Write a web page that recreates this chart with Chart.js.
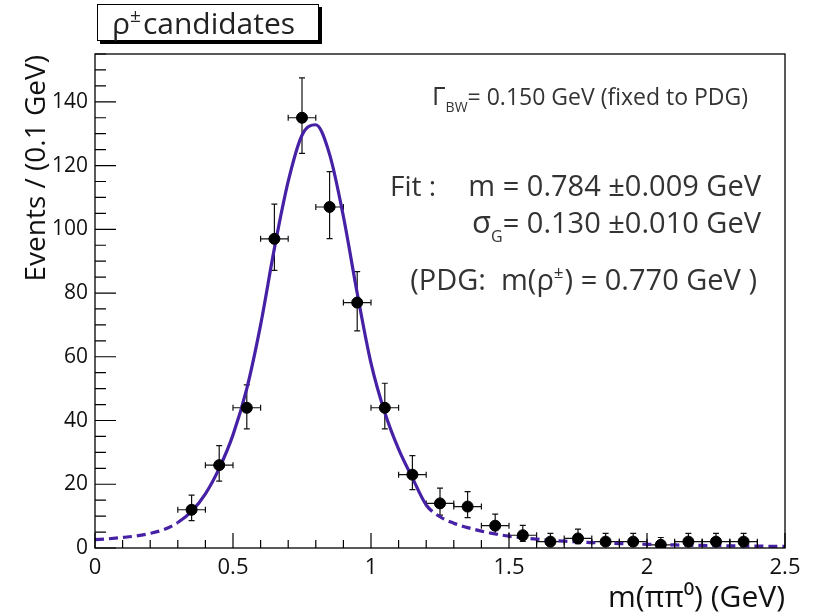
<!DOCTYPE html>
<html>
<head>
<meta charset="utf-8">
<script src="https://cdn.jsdelivr.net/npm/chart.js@4.4.1/dist/chart.umd.min.js"></script>
<style>
html, body { margin: 0; padding: 0; background: #fff; }
canvas { display: block; }
</style>
</head>
<body>
<canvas id="c" width="817" height="616"></canvas>
<script>
// data (bin centres, 0.1 GeV bins)
const binCenters = [0.35, 0.45, 0.55, 0.65, 0.75, 0.85, 0.95, 1.05, 1.15, 1.25, 1.35,
                    1.45, 1.55, 1.65, 1.75, 1.85, 1.95, 2.05, 2.15, 2.25, 2.35];
const counts     = [12, 26, 44, 97, 135, 107, 77, 44, 23, 14, 13,
                    7, 4, 2, 3, 2, 2, 1, 2, 2, 2];
const errUp      = [4.6, 6.1, 7.2, 10.9, 12.5, 11.1, 9.7, 7.7, 6.0, 4.8, 4.7,
                    3.6, 3.1, 2.6, 2.9, 2.6, 2.6, 2.3, 2.6, 2.6, 2.6];
const errDown    = [3.4, 5.0, 6.6, 9.9, 11.2, 9.9, 8.9, 6.6, 4.7, 3.7, 3.5,
                    2.6, 1.9, 1.3, 1.6, 1.3, 1.3, 0.8, 1.3, 1.3, 1.3];
const binHalfWidth = 0.05;

// fit curve
const curveX = [0.00, 0.05, 0.10, 0.15, 0.20, 0.25, 0.30, 0.35, 0.40, 0.45, 0.50,
                0.55, 0.60, 0.65, 0.70, 0.75, 0.80, 0.85, 0.90, 0.95, 1.00,
                1.05, 1.10, 1.15, 1.20, 1.25, 1.30, 1.35, 1.40, 1.45, 1.50,
                1.55, 1.60, 1.65, 1.70, 1.75, 1.80, 1.85, 1.90, 1.95, 2.00,
                2.05, 2.10, 2.15, 2.20, 2.25, 2.30, 2.35, 2.40, 2.45, 2.50];
const curveY = [2.6, 2.9, 3.3, 3.8, 4.6, 5.8, 8.0, 11.5, 17.0, 25.0, 35.5,
                50.0, 70.0, 94.0, 115.0, 129.5, 132.8, 123.5, 104.0, 80.0, 58.0,
                42.5, 31.0, 22.0, 13.5, 9.8, 7.8, 6.4, 5.3, 4.4, 3.7,
                3.2, 2.8, 2.45, 2.15, 1.9, 1.7, 1.55, 1.4, 1.25, 1.15,
                1.05, 0.95, 0.88, 0.8, 0.74, 0.68, 0.63, 0.58, 0.54, 0.5];
const fitRange = [0.30, 1.20];

const FONT = '"Open Sans", "DejaVu Sans", sans-serif';
const fitColor = 'rgb(70, 32, 165)';

const pointData = binCenters.map((x, i) => ({ x: x, y: counts[i] }));
const curveData = curveX.map((x, i) => ({ x: x, y: curveY[i] }));

// draws text made of pieces (sub/superscripts)
function drawRich(ctx, parts, x, y, align) {
    let total = 0;
    parts.forEach(p => {
        ctx.font = p.size + 'px ' + FONT;
        p.w = ctx.measureText(p.t).width;
        total += p.w + (p.gap || 0);
    });
    let cx = x;
    if (align === 'right') cx = x - total;
    if (align === 'center') cx = x - total / 2;
    parts.forEach(p => {
        ctx.font = p.size + 'px ' + FONT;
        ctx.fillText(p.t, cx, y + (p.dy || 0));
        cx += p.w + (p.gap || 0);
    });
}

const errorBars = {
    id: 'errorBars',
    beforeDatasetsDraw(chart) {
        const { ctx, scales: { x, y } } = chart;
        ctx.save();
        ctx.strokeStyle = '#111';
        ctx.lineWidth = 1.2;
        binCenters.forEach((c, i) => {
            const px = x.getPixelForValue(c);
            const py = y.getPixelForValue(counts[i]);
            const x0 = x.getPixelForValue(c - binHalfWidth);
            const x1 = x.getPixelForValue(c + binHalfWidth);
            const yt = y.getPixelForValue(counts[i] + errUp[i]);
            const yb = y.getPixelForValue(counts[i] - errDown[i]);
            ctx.beginPath();
            ctx.moveTo(x0, py); ctx.lineTo(x1, py);
            ctx.moveTo(x0, py - 3); ctx.lineTo(x0, py + 3);
            ctx.moveTo(x1, py - 3); ctx.lineTo(x1, py + 3);
            ctx.moveTo(px, yt); ctx.lineTo(px, yb);
            ctx.moveTo(px - 3, yt); ctx.lineTo(px + 3, yt);
            ctx.moveTo(px - 3, yb); ctx.lineTo(px + 3, yb);
            ctx.stroke();
        });
        ctx.restore();
    }
};

const frame = {
    id: 'frame',
    afterDatasetsDraw(chart) {
        const { ctx, chartArea: a, scales: { x, y } } = chart;
        ctx.save();
        ctx.strokeStyle = '#000';
        ctx.lineWidth = 1.3;
        ctx.strokeRect(a.left, a.top, a.right - a.left, a.bottom - a.top);
        ctx.lineWidth = 1.2;
        ctx.beginPath();
        // x ticks, inward
        for (let k = 0; k <= 25; k++) {
            const px = x.getPixelForValue(k * 0.1);
            const len = (k % 5 === 0) ? 15 : 8;
            ctx.moveTo(px, a.bottom); ctx.lineTo(px, a.bottom - len);
        }
        // y ticks, inward
        for (let k = 0; k * 5 <= y.max; k++) {
            const py = y.getPixelForValue(k * 5);
            const len = (k % 4 === 0) ? 21 : 11;
            ctx.moveTo(a.left, py); ctx.lineTo(a.left + len, py);
        }
        ctx.stroke();
        ctx.restore();
    }
};

const labels = {
    id: 'labels',
    afterDraw(chart) {
        const ctx = chart.ctx;
        ctx.save();
        // title box
        ctx.fillStyle = '#000';
        ctx.fillRect(100, 41, 222, 3);
        ctx.fillRect(319, 7, 3, 37);
        ctx.fillStyle = '#fff';
        ctx.fillRect(97, 4, 222, 37);
        ctx.strokeStyle = '#000';
        ctx.lineWidth = 1;
        ctx.strokeRect(97.5, 4.5, 221, 36);
        ctx.fillStyle = '#222';
        ctx.textBaseline = 'alphabetic';
        drawRich(ctx, [
            { t: 'ρ', size: 30 },
            { t: '±', size: 19, dy: -12, gap: 2 },
            { t: 'candidates', size: 30 }
        ], 112, 34, 'left');

        // y axis title
        ctx.save();
        ctx.translate(45, 55);
        ctx.rotate(-Math.PI / 2);
        ctx.fillStyle = '#111';
        ctx.textAlign = 'right';
        ctx.font = '28px ' + FONT;
        ctx.fillText('Events / (0.1 GeV)', 0, 0);
        ctx.restore();

        ctx.fillStyle = '#333';
        drawRich(ctx, [
            { t: 'Γ', size: 26 },
            { t: 'BW', size: 14, dy: 7 },
            { t: '= 0.150 GeV (fixed to PDG)', size: 23 }
        ], 748, 105, 'right');
        drawRich(ctx, [{ t: 'Fit :', size: 28 }], 390, 196, 'left');
        drawRich(ctx, [{ t: 'm = 0.784 ±0.009 GeV', size: 29 }], 761, 196, 'right');
        drawRich(ctx, [
            { t: 'σ', size: 31 },
            { t: 'G', size: 16, dy: 9 },
            { t: '= 0.130 ±0.010 GeV', size: 29 }
        ], 761, 233, 'right');
        drawRich(ctx, [
            { t: '(PDG:  m(ρ', size: 29 },
            { t: '±', size: 17, dy: -12, gap: 1 },
            { t: ') = 0.770 GeV )', size: 29 }
        ], 757, 290, 'right');
        ctx.restore();
    }
};

new Chart(document.getElementById('c').getContext('2d'), {
    type: 'scatter',
    data: {
        datasets: [
            {
                label: 'data',
                data: pointData,
                backgroundColor: '#000',
                borderColor: '#000',
                pointRadius: 5.5,
                pointHoverRadius: 5.5
            },
            {
                label: 'fit',
                data: curveData,
                showLine: true,
                pointRadius: 0,
                borderColor: fitColor,
                borderWidth: 3.2,
                cubicInterpolationMode: 'monotone',
                segment: {
                    borderDash: ctx => (ctx.p0.parsed.x < fitRange[0] - 1e-9 || ctx.p1.parsed.x > fitRange[1] + 1e-9) ? [9, 5] : undefined
                }
            }
        ]
    },
    options: {
        responsive: false,
        animation: false,
        layout: { padding: { top: 54, right: 32, left: 0, bottom: 0 } },
        plugins: {
            legend: { display: false },
            tooltip: { enabled: false }
        },
        scales: {
            x: {
                type: 'linear',
                min: 0,
                max: 2.5,
                grid: { display: false, drawTicks: false },
                border: { display: false },
                ticks: {
                    stepSize: 0.5, padding: 7, color: '#111',
                    font: { family: FONT, size: 22 },
                    callback: v => String(Number(v.toFixed(2)))
                },
                title: {
                    display: true,
                    text: 'm(ππ⁰) (GeV)',
                    align: 'end',
                    color: '#111',
                    font: { family: FONT, size: 30 },
                    padding: { top: 0, bottom: 0 }
                },
                afterFit: s => { s.height = 68; }
            },
            y: {
                type: 'linear',
                min: 0,
                max: 155,
                grid: { display: false, drawTicks: false },
                border: { display: false },
                ticks: { stepSize: 20, includeBounds: false, padding: 7, color: '#111', font: { family: FONT, size: 21 } },
                afterFit: s => { s.width = 95; }
            }
        }
    },
    plugins: [errorBars, frame, labels]
});
</script>
</body>
</html>
